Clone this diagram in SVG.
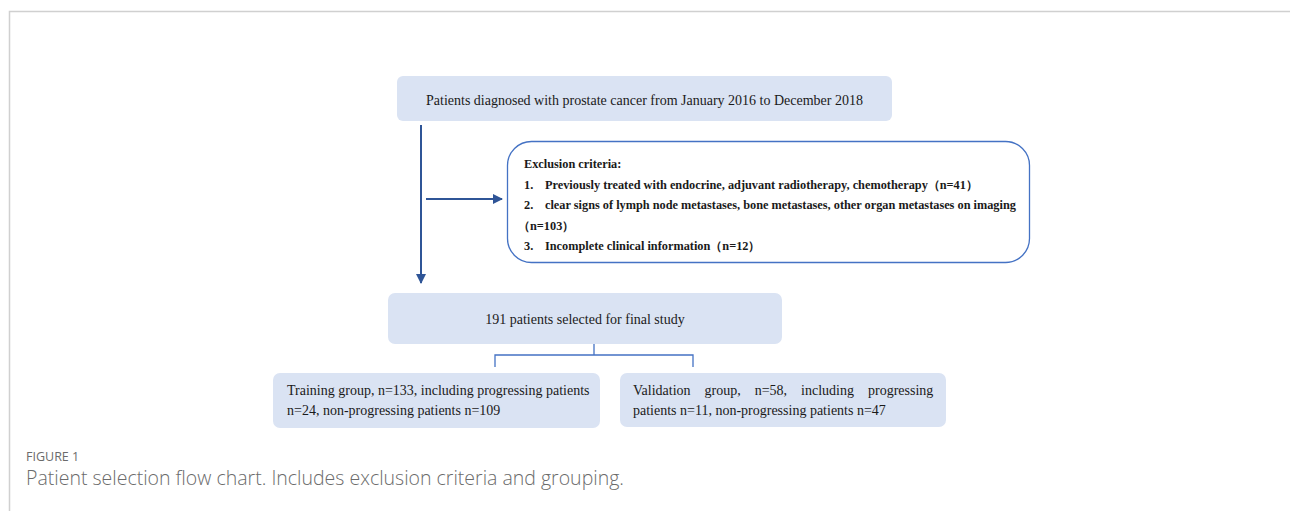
<svg xmlns="http://www.w3.org/2000/svg" width="1290" height="511" viewBox="0 0 1290 511">
<defs>
<style>
.box{fill:#dae3f3;stroke:none}
.t{font-family:"Liberation Serif","Times New Roman",serif;font-size:14px;fill:#1a1a1a}
.b{font-family:"Liberation Serif","Times New Roman",serif;font-size:12.3px;font-weight:bold;fill:#1a1a1a}
.cap1{font-family:"Open Sans","Noto Sans",sans-serif;font-size:12.5px;fill:#6b6b6b}
.cap2{font-family:"Open Sans","Noto Sans",sans-serif;font-size:19.5px;font-weight:300;fill:#6b6b6b}
.arr{stroke:#2f5597;stroke-width:2;fill:none}
.br{stroke:#4472c4;stroke-width:1.3;fill:none}
</style>
<marker id="ah" viewBox="0 0 10 10" refX="9" refY="5" markerWidth="5" markerHeight="5" orient="auto" markerUnits="strokeWidth">
<path d="M0,0 L10,5 L0,10 z" fill="#2f5597"/>
</marker>
</defs>
<rect width="1290" height="511" fill="#fff"/>
<path d="M9.5,511 V11.5 H1290" fill="none" stroke="#d0d0d0" stroke-width="1.5"/>

<g id="n1">
<rect class="box" x="397" y="76" width="495" height="45" rx="6"/>
<text class="t" x="644.5" y="104.5" text-anchor="middle">Patients diagnosed with prostate cancer from January 2016 to December 2018</text>
</g>

<g id="n2">
<rect x="507.5" y="141.5" width="522" height="121" rx="24" fill="#fff" stroke="#4472c4" stroke-width="1.3"/>
<text class="b" x="524" y="168">Exclusion criteria:</text>
<text class="b" x="524" y="189">1.</text>
<text class="b" x="545" y="189">Previously treated with endocrine, adjuvant radiotherapy, chemotherapy（n=41）</text>
<text class="b" x="524" y="209">2.</text>
<text class="b" x="545" y="209">clear signs of lymph node metastases, bone metastases, other organ metastases on imaging</text>
<text class="b" x="518" y="230">（n=103）</text>
<text class="b" x="524" y="250">3.</text>
<text class="b" x="545" y="250">Incomplete clinical information（n=12）</text>
</g>

<g id="n3">
<rect class="box" x="388" y="293" width="394" height="51" rx="7"/>
<text class="t" x="585" y="324" text-anchor="middle">191 patients selected for final study</text>
</g>

<g id="n4">
<rect class="box" x="273" y="373" width="327" height="55" rx="7"/>
<text class="t" x="287" y="395">Training group, n=133, including progressing patients</text>
<text class="t" x="287" y="415">n=24, non-progressing patients n=109</text>
</g>

<g id="n5">
<rect class="box" x="620" y="373" width="326" height="54" rx="7"/>
<text class="t" x="633" y="395" word-spacing="10.5">Validation group, n=58, including progressing</text>
<text class="t" x="633" y="415">patients n=11, non-progressing patients n=47</text>
</g>

<g id="connectors">
<line class="arr" x1="421" y1="125" x2="421" y2="283" marker-end="url(#ah)"/>
<line class="arr" x1="426" y1="199" x2="502" y2="199" marker-end="url(#ah)"/>
<path class="br" d="M594,344 V355 M495,367 V355 H693 V367"/>
</g>

<g id="caption">
<text class="cap1" x="26" y="461">FIGURE 1</text>
<text class="cap2" x="26" y="485">Patient selection flow chart. Includes exclusion criteria and grouping.</text>
</g>
</svg>
